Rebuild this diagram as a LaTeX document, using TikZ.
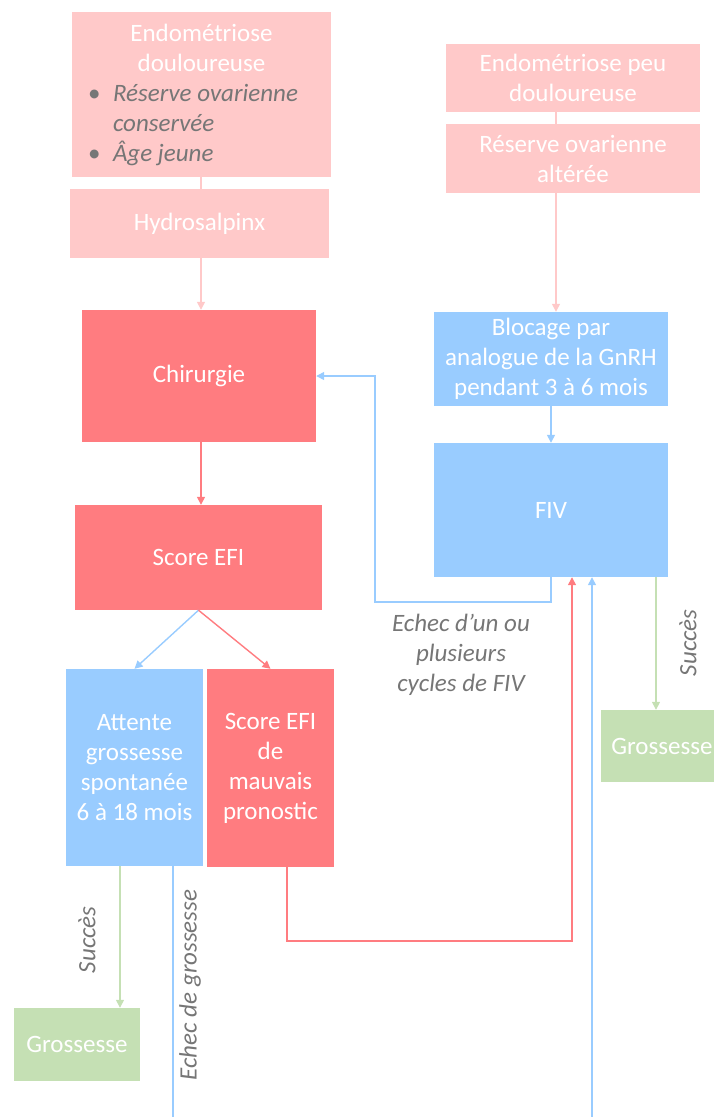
\documentclass[tikz,border=0pt]{standalone}
\usepackage{fontspec}
\setmainfont{Carlito}
\usepackage{xcolor}
\usepackage{tikz}
\usetikzlibrary{arrows.meta,calc}
\definecolor{rosepale}{RGB}{255,201,201}
\definecolor{rougeefi}{RGB}{255,124,128}
\definecolor{bleufiv}{RGB}{153,204,255}
\definecolor{vertok}{RGB}{197,224,180}
\definecolor{grislab}{RGB}{118,118,118}
\newcommand{\TxtSize}{\fontsize{25}{30}\selectfont}
\tikzset{
  box/.style={inner sep=6pt, align=center, text=white, font=\TxtSize},
  paleBox/.style={box, fill=rosepale},   % entry situations
  redBox/.style={box, fill=rougeefi},    % surgery path
  blueBox/.style={box, fill=bleufiv},    % ART path
  greenBox/.style={box, fill=vertok},    % outcome
  lab/.style={text=grislab, font=\TxtSize\itshape, align=center},
  link/.style={line width=1.4pt},
  arr/.style={link, -{Triangle[length=8pt,width=8pt]}}
}
% bullet line inside the first box
\newcommand{\Puce}[2]{\makebox[243pt][l]{\hspace{8pt}\makebox[25pt][l]{\color{grislab}#1}{\color{grislab}\itshape #2}}}

\begin{document}
\begin{tikzpicture}[x=1pt,y=-1pt]
  \useasboundingbox (0,0) rectangle (714,1117);
  % left column
  \node[paleBox, inner sep=8pt, minimum width=259, minimum height=165] (endoA) at (201.5,94.5)
    {Endométriose\\douloureuse\\\Puce{\textbullet}{Réserve ovarienne}\\\Puce{}{conservée}\\\Puce{\textbullet}{Âge jeune}};
  \node[paleBox, minimum width=259, minimum height=69] (hydro) at (199.5,223.5) {Hydrosalpinx};
  \node[redBox, minimum width=234, minimum height=132] (chir) at (199,376) {Chirurgie};
  \node[redBox, minimum width=247, minimum height=105] (efi) at (198.5,557.5) {Score EFI};
  \node[blueBox, minimum width=137, minimum height=197] (attente) at (134.5,767.5)
    {Attente\\grossesse\\spontanée\\6 à 18 mois};
  \node[redBox, minimum width=127, minimum height=198] (mauvais) at (270.5,768)
    {Score EFI\\de\\mauvais\\pronostic};
  \node[greenBox, minimum width=126, minimum height=73] (grossA) at (77,1044.5) {Grossesse};
  % right column
  \node[paleBox, minimum width=254, minimum height=68] (endoB) at (573,78) {Endométriose peu\\douloureuse};
  \node[paleBox, minimum width=254, minimum height=69] (reserve) at (573,158.5) {Réserve ovarienne\\altérée};
  \node[blueBox, minimum width=234, minimum height=94] (blocage) at (551,359)
    {Blocage par\\analogue de la GnRH\\pendant 3 à 6 mois};
  \node[blueBox, minimum width=234, minimum height=134] (fiv) at (551,510) {FIV};
  \node[greenBox, minimum width=122, minimum height=72] (grossB) at (662,746) {Grossesse};
  % labels
  \node[lab] (echecFIV) at (461,655) {Echec d’un ou\\plusieurs\\cycles de FIV};
  \node[lab, rotate=90] (succesA) at (87,940) {Succès};
  \node[lab, rotate=90] (echecG) at (190,985) {Echec de grossesse};
  \node[lab, rotate=90] (succesB) at (688,643) {Succès};
  % free ends and bends
  \coordinate (colA) at (201,0);
  \coordinate (colB) at (556,0);
  \coordinate (fivRet) at (375,602);
  \coordinate (redIn) at (572,0);
  \coordinate (redLow) at (287,941);
  \coordinate (waitA) at (120,0);
  \coordinate (waitB) at (173,1117);
  \coordinate (blueIn) at (592,1117);
  \coordinate (okB) at (656,0);
  % pale links
  \draw[link, rosepale] (endoA.south -| colA) -- (hydro.north -| colA);
  \draw[arr, rosepale] (hydro.south -| colA) -- (chir.north -| colA);
  \draw[link, rosepale] (endoB.south -| colB) -- (reserve.north -| colB);
  \draw[arr, rosepale] (reserve.south -| colB) -- (blocage.north -| colB);
  % main path
  \draw[arr, rougeefi] (chir.south -| colA) -- (efi.north -| colA);
  \draw[arr, bleufiv] (efi.south) -- (attente.north);
  \draw[arr, rougeefi] (efi.south) -- (mauvais.north);
  \draw[arr, bleufiv] (blocage.south) -- (fiv.north);
  \draw[arr, bleufiv] (fiv.south) |- (fivRet) |- (chir.east);
  \draw[arr, rougeefi] (mauvais.south -| redLow) |- (redLow -| redIn) -- (fiv.south -| redIn);
  \draw[arr, bleufiv] (blueIn) -- (fiv.south -| blueIn);
  \draw[link, bleufiv] (attente.south -| waitB) -- (waitB);
  \draw[arr, vertok] (attente.south -| waitA) -- (grossA.north -| waitA);
  \draw[arr, vertok] (fiv.south -| okB) -- (grossB.north -| okB);
\end{tikzpicture}
\end{document}
